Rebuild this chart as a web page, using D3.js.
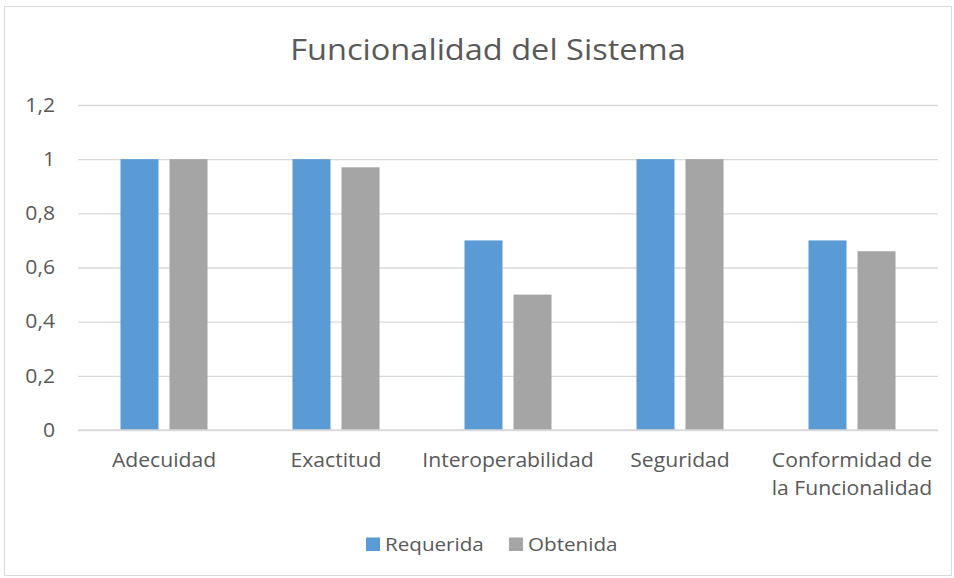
<!DOCTYPE html>
<html>
<head>
<meta charset="utf-8">
<script src="https://cdn.jsdelivr.net/npm/d3@7"></script>
<style>
  body { margin: 0; background: #fff; }
  text { font-family: "Open Sans", Lato, sans-serif; fill: #595959; }
</style>
</head>
<body>
<svg width="954" height="578"></svg>
<script>
// chart values
var categories = ["Adecuidad", "Exactitud", "Interoperabilidad", "Seguridad", "Conformidad de la Funcionalidad"];
var seriesNames = ["Requerida", "Obtenida"];
var requerida = [1, 1, 0.7, 1, 0.7];
var obtenida = [1, 0.97, 0.5, 1, 0.66];
var yTicks = [0, 0.2, 0.4, 0.6, 0.8, 1, 1.2];
var title = "Funcionalidad del Sistema";

var svg = d3.select("svg"),
    margin = {top: 105, right: 16, bottom: 148, left: 78},
    width = +svg.attr("width") - margin.left - margin.right,
    height = +svg.attr("height") - margin.top - margin.bottom;

// the source picture's text runs a little wider than Open Sans
var stretch = 1.085;

var colors = d3.scaleOrdinal().domain(seriesNames).range(["#5b9bd5", "#a5a5a5"]);

var data = categories.map(function(c, i) {
  return {name: c, Requerida: requerida[i], Obtenida: obtenida[i]};
});

// outer chart border
svg.append("rect")
    .attr("x", 4.5).attr("y", 6.5)
    .attr("width", 947).attr("height", 569)
    .attr("fill", "none")
    .attr("stroke", "#d9d9d9");

svg.append("text")
    .attr("transform", "translate(488,60) scale(" + stretch + ",1)")
    .attr("text-anchor", "middle")
    .attr("font-size", 30)
    .text(title);

var g = svg.append("g").attr("transform", "translate(" + margin.left + "," + margin.top + ")");

var x0 = d3.scaleBand()
    .domain(categories)
    .range([0, width])
    .paddingInner(0.494)
    .paddingOuter(0.247);

var x1 = d3.scaleBand()
    .domain(seriesNames)
    .range([0, x0.bandwidth()])
    .paddingInner(0.2245);

var y = d3.scaleLinear()
    .domain([0, 1.2])
    .range([height, 0]);

var fmt = function(d) { return d3.format("~g")(d).replace(".", ","); };

// gridlines + tick labels
var yAxis = g.append("g")
    .call(d3.axisLeft(y).tickValues(yTicks).tickSize(-width).tickFormat(fmt));
yAxis.select(".domain").remove();
yAxis.selectAll("line").attr("stroke", "#d9d9d9").attr("stroke-width", 1.3);
yAxis.selectAll("text")
    .attr("x", -23 / stretch)
    .attr("transform", "scale(" + stretch + ",1)")
    .attr("font-size", 19.5)
    .attr("fill", "#595959")
    .style("font-family", "'Open Sans', sans-serif");

g.append("g")
  .selectAll("g")
  .data(data)
  .enter().append("g")
    .attr("transform", function(d) { return "translate(" + x0(d.name) + ",0)"; })
  .selectAll("rect")
  .data(function(d) { return seriesNames.map(function(k) { return {key: k, value: d[k]}; }); })
  .enter().append("rect")
    .attr("x", function(d) { return x1(d.key); })
    .attr("y", function(d) { return y(d.value); })
    .attr("width", x1.bandwidth())
    .attr("height", function(d) { return height - y(d.value); })
    .attr("fill", function(d) { return colors(d.key); });

// baseline drawn over bars
g.append("line")
    .attr("x1", 0).attr("x2", width)
    .attr("y1", y(0)).attr("y2", y(0))
    .attr("stroke", "#d9d9d9").attr("stroke-width", 1.3);

// category labels, wrapped the way the picture has them
var labelLines = {
  "Conformidad de la Funcionalidad": ["Conformidad de", "la Funcionalidad"]
};
var cat = g.append("g")
  .selectAll("text")
  .data(categories)
  .enter().append("text")
    .attr("text-anchor", "middle")
    .attr("font-size", 19.5)
    .attr("transform", function(d) {
      return "translate(" + (x0(d) + x0.bandwidth() / 2) + "," + (height + 37) + ") scale(" + stretch + ",1)";
    });
cat.selectAll("tspan")
  .data(function(d) { return labelLines[d] || [d]; })
  .enter().append("tspan")
    .attr("x", 0)
    .attr("dy", function(d, i) { return i === 0 ? 0 : 28; })
    .text(function(d) { return d; });

// legend
var legendX = [366, 509];
var legend = svg.append("g")
  .selectAll("g")
  .data(seriesNames)
  .enter().append("g")
    .attr("transform", function(d, i) { return "translate(" + legendX[i] + ",537.5)"; });

legend.append("rect")
    .attr("width", 14)
    .attr("height", 13.5)
    .attr("fill", colors);

legend.append("text")
    .attr("transform", "translate(19,13) scale(" + stretch + ",1)")
    .attr("font-size", 19)
    .text(function(d) { return d; });
</script>
</body>
</html>
